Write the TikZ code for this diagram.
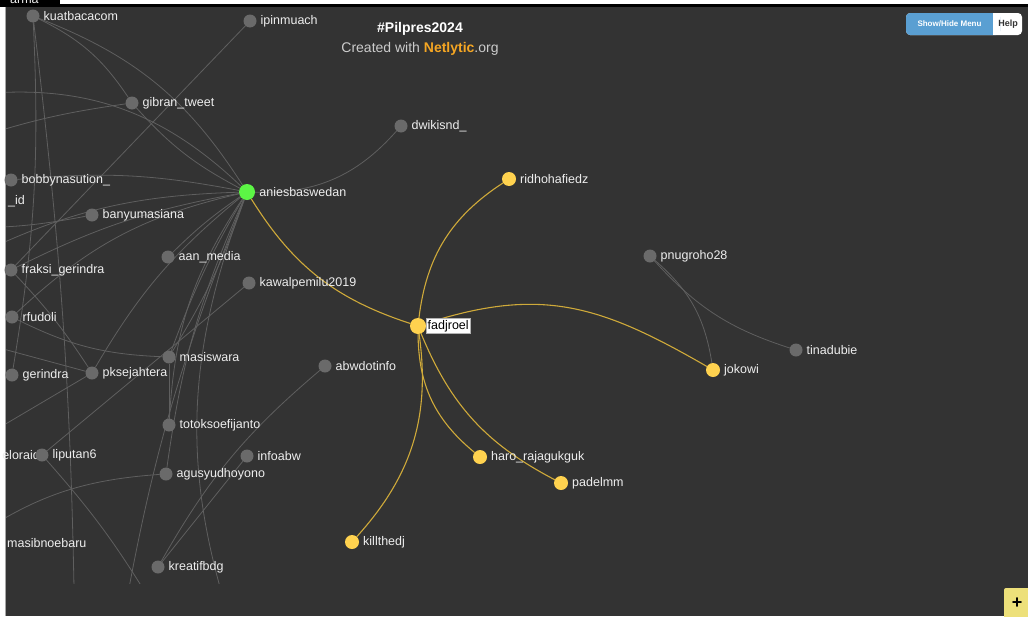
\documentclass[tikz,border=0pt]{standalone}
\usepackage{fontspec}
\setmainfont{Liberation Sans}
\pgfdeclarelayer{bottom}
\pgfdeclarelayer{edges}
\pgfsetlayers{bottom,edges,main}
\definecolor{bgdark}{HTML}{333333}
\definecolor{nodegrey}{HTML}{6A6A6A}
\definecolor{edgegrey}{HTML}{5F5F5F}
\definecolor{nodeyellow}{HTML}{FFD24F}
\definecolor{edgeyellow}{HTML}{CFAA3A}
\definecolor{nodegreen}{HTML}{5CF545}
\definecolor{labwhite}{HTML}{EEEEEE}
\definecolor{subgrey}{HTML}{CCCCCC}
\definecolor{netorange}{HTML}{F5A623}
\definecolor{btnblue}{HTML}{5A9FD2}
\definecolor{plusyellow}{HTML}{EDE07A}
\newcommand\lblfnt{\fontsize{12.5}{14}\selectfont}
\begin{document}
\begin{tikzpicture}[x=1pt,y=1pt,
  label distance=4pt,
  gn/.style={circle, fill=nodegrey, minimum size=13pt, inner sep=0pt, outer sep=0pt},
  yn/.style={circle, fill=nodeyellow, minimum size=14pt, inner sep=0pt, outer sep=0pt},
  lbl/.style={text=labwhite, font=\lblfnt, inner sep=0pt},
  partlbl/.style={text=labwhite, font=\lblfnt, inner sep=0pt},
  gedge/.style={draw=edgegrey, line width=0.8pt},
  yedge/.style={draw=edgeyellow, line width=1.1pt}]
\useasboundingbox (0,0) rectangle (1028,-616);
% background
\begin{pgfonlayer}{bottom}
\fill[white] (0,0) rectangle (1028,-616);
\fill[black] (0,-4) rectangle (1028,-6.5);
\fill[black] (0,0) rectangle (60,-6.5);
\fill[bgdark] (5,-6.5) rectangle (1028,-616);
\fill[gray!70] (4.5,-6.5) rectangle (6,-616);
\end{pgfonlayer}
% nodes
\node[gn, label={[lbl]right:kuatbacacom}] (kuat) at (33,-16) {};
\node[gn, label={[lbl]right:ipinmuach}] (ipin) at (250,-21) {};
\node[gn, label={[lbl]right:gibran\_tweet}] (gibran) at (132,-103) {};
\node[gn, label={[lbl]right:dwikisnd\_}] (dwiki) at (401,-126) {};
\node[gn, label={[lbl]right:bobbynasution\_}] (bobby) at (11,-180) {};
\node[circle, fill=nodegreen, minimum size=16pt, inner sep=0pt, label={[lbl]right:aniesbaswedan}] (anies) at (247,-192) {};
\node[gn, label={[lbl]right:banyumasiana}] (banyu) at (92,-215) {};
\node[gn, label={[lbl]right:aan\_media}] (aan) at (168,-257) {};
\node[gn, label={[lbl]right:kawalpemilu2019}] (kawal) at (249,-283) {};
\node[gn, label={[lbl]right:fraksi\_gerindra}] (fraksi) at (11,-270) {};
\node[gn, label={[lbl]right:rfudoli}] (rfudoli) at (12,-317) {};
\node[gn, label={[lbl]right:masiswara}] (masiswara) at (169,-357) {};
\node[gn, label={[lbl]right:gerindra}] (gerindra) at (12,-375) {};
\node[gn, label={[lbl]right:pksejahtera}] (pks) at (92,-373) {};
\node[gn, label={[lbl]right:abwdotinfo}] (abwdotinfo) at (325,-366) {};
\node[gn, label={[lbl]right:totoksoefijanto}] (totok) at (169,-425) {};
\node[partlbl, anchor=east] (eloraid) at (40,-455) {eloraid};
\node[gn, label={[lbl]right:liputan6}] (liputan) at (42,-455) {};
\node[gn, label={[lbl]right:infoabw}] (infoabw) at (247,-456) {};
\node[gn, label={[lbl]right:agusyudhoyono}] (agus) at (166,-474) {};
\node[gn, label={[lbl]right:kreatifbdg}] (kreatif) at (158,-567) {};
\node[partlbl, anchor=west] (idlbl) at (8,-201) {\_id};
\node[partlbl, anchor=west] (masib) at (7,-543) {masibnoebaru};
\begin{scope}
\clip (5,-0.2) rectangle (60,-6);
\node[partlbl, anchor=west] (arma) at (10,-0.5) {arma};
\end{scope}
\node[yn, minimum size=16pt, label={[fill=white, text=black, font=\lblfnt, inner sep=1.5pt, label distance=0pt, draw=gray!60]right:fadjroel}] (fadjroel) at (418,-326) {};
\node[yn, label={[lbl]right:ridhohafiedz}] (ridho) at (509,-179) {};
\node[gn, label={[lbl]right:pnugroho28}] (pnug) at (650,-256) {};
\node[gn, label={[lbl]right:tinadubie}] (tina) at (796,-350) {};
\node[yn, label={[lbl]right:jokowi}] (jokowi) at (713,-370) {};
\node[yn, label={[lbl]right:haro\_rajagukguk}] (haro) at (480,-457) {};
\node[yn, label={[lbl]right:padelmm}] (padel) at (561,-483) {};
\node[yn, label={[lbl]right:killthedj}] (killthedj) at (352,-542) {};
% off-canvas endpoints
\coordinate (oL1) at (-30,-95);
\coordinate (oL2) at (-30,-140);
\coordinate (oL3) at (-30,-228);
\coordinate (oL4) at (-30,-258);
\coordinate (oL5) at (-30,-540);
\coordinate (oL6) at (-30,-445);
\coordinate (oL7) at (-30,-340);
\coordinate (oB1) at (240,-650);
\coordinate (oB2) at (75,-650);
\coordinate (oB3) at (118,-650);
\coordinate (oB4) at (150,-600);
% edges
\begin{pgfonlayer}{edges}
\begin{scope}
\clip (6,-6.5) rectangle (1028,-583);
\draw[gedge] (kuat) to[bend left=18] (anies);
\draw[gedge] (kuat) to[bend left=15] (gibran);
\draw[gedge] (kuat) to[bend left=6] (gerindra);
\draw[gedge] (kuat) to[bend left=3] (oB2);
\draw[gedge] (ipin) -- (fraksi);
\draw[gedge] (oL1) to[bend left=25] (anies);
\draw[gedge] (oL2) to[bend left=5] (gibran);
\draw[gedge] (gibran) to[bend right=10] (anies);
\draw[gedge] (anies) to[bend right=25] (dwiki);
\draw[gedge] (bobby) to[bend left=8] (anies);
\draw[gedge] (oL4) to[bend left=12] (anies);
\draw[gedge] (oL3) to[bend right=5] (banyu);
\draw[gedge] (anies) to[bend right=5] (aan);
\draw[gedge] (anies) to[bend right=8] (fraksi);
\draw[gedge] (rfudoli) to[bend left=15] (anies);
\draw[gedge] (anies) to[bend right=10] (pks);
\draw[gedge] (anies) to[bend right=5] (masiswara);
\draw[gedge] (anies) to[bend left=6] (masiswara);
\draw[gedge] (anies) to[bend right=15] (totok);
\draw[gedge] (anies) to[bend right=8] (agus);
\draw[gedge] (anies) to[bend right=20] (oB1);
\draw[gedge] (anies) to[bend right=6] (oB3);
\draw[gedge] (kawal) -- (liputan);
\draw[gedge] (abwdotinfo) to[bend right=10] (kreatif);
\draw[gedge] (infoabw) -- (kreatif);
\draw[gedge] (liputan) to[bend left=5] (oB4);
\draw[gedge] (oL5) to[bend left=15] (agus);
\draw[gedge] (pks) -- (oL6);
\draw[gedge] (oL7) -- (pks);
\draw[gedge] (masiswara) -- (totok);
\draw[gedge] (rfudoli) to[bend right=12] (masiswara);
\draw[gedge] (fraksi) to[bend left=5] (pks);
\draw[gedge] (pnug) to[bend left=20] (jokowi);
\draw[gedge] (pnug) to[bend right=15] (tina);
\draw[yedge] (anies) to[bend right=20] (fadjroel);
\draw[yedge] (fadjroel) to[bend left=25] (ridho);
\draw[yedge] (fadjroel) to[out=18, in=150, looseness=1.1] (jokowi);
\draw[yedge] (fadjroel) to[bend right=25] (haro);
\draw[yedge] (fadjroel) to[bend right=20] (padel);
\draw[yedge] (fadjroel) to[bend left=25] (killthedj);
\end{scope}
\end{pgfonlayer}
% title
\node[text=white, font=\fontsize{14}{16}\selectfont\bfseries, inner sep=0pt] (title) at (420,-29) {\#Pilpres2024};
\node[text=subgrey, font=\fontsize{14}{16}\selectfont, inner sep=0pt] (sub) at (420,-49) {Created with \textcolor{netorange}{\textbf{Netlytic}}.org};
% button
\fill[white, rounded corners=4pt] (906,-13) rectangle (1022,-35);
\fill[btnblue, rounded corners=4pt] (906,-13) rectangle (1000,-35);
\fill[white] (993,-13) rectangle (1000,-35);
\node[text=white, font=\fontsize{8}{9}\selectfont\bfseries, inner sep=0pt] (showhide) at (949.5,-24) {Show/Hide Menu};
\node[text=black!80, font=\fontsize{9}{10}\selectfont\bfseries, inner sep=0pt] (help) at (1008,-24) {Help};
% plus box
\fill[plusyellow, rounded corners=2pt] (1004,-588) rectangle (1032,-620);
\node[text=black, font=\fontsize{18}{18}\selectfont\bfseries, inner sep=0pt] (plus) at (1017,-603) {+};
\end{tikzpicture}
\end{document}
